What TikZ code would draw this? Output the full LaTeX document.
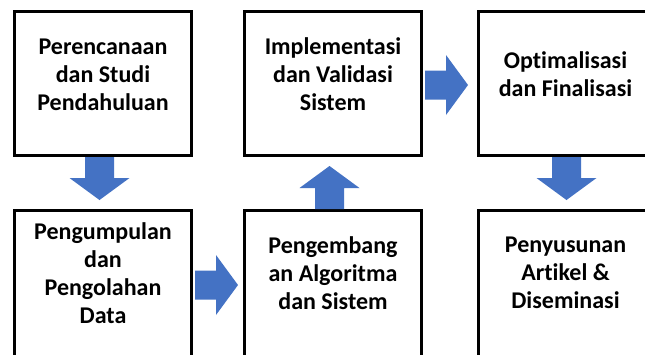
\documentclass[tikz,border=0pt]{standalone}
\usepackage{fontspec}
\setmainfont{Carlito}[Ligatures=NoCommon]
\definecolor{arrowblue}{HTML}{4472C4}
\tikzset{
  stage/.style={draw=black,line width=3pt,minimum width=177pt,minimum height=144pt,inner sep=0pt},
  stagetext/.style={align=center,font=\fontsize{24}{28}\selectfont\bfseries,inner sep=0pt},
}
\newcommand{\blockarrow}[2]{\fill[arrowblue,shift={#1},rotate=#2] (0,-14.5) -- (21,-14.5) -- (21,-30) -- (43,0) -- (21,30) -- (21,14.5) -- (0,14.5) -- cycle;}
\begin{document}
\begin{tikzpicture}[x=1pt,y=1pt]
    \useasboundingbox (0,0) rectangle (645,-354);
    \clip (0,0) rectangle (645,-354);
    \fill[white] (0,0) rectangle (645,-354);
    \node[stage] (plan) at (103,-83.5) {};
    \node[stage] (impl) at (333,-83.5) {};
    \node[stage,minimum width=200pt] (optim) at (578.5,-83.5) {};
    \node[stage,minimum height=170pt] (data) at (103,-295.5) {};
    \node[stage,minimum height=170pt] (algo) at (333,-295.5) {};
    \node[stage,minimum width=200pt,minimum height=170pt] (publish) at (578.5,-295.5) {};
    \node[stagetext] (plantext) at ([yshift=9pt]plan.center) {Perencanaan\\dan Studi\\Pendahuluan};
    \node[stagetext] (impltext) at ([yshift=9pt]impl.center) {Implementasi\\dan Validasi\\Sistem};
    \node[stagetext] (optimtext) at ([xshift=-13pt,yshift=9pt]optim.center) {Optimalisasi\\dan Finalisasi};
    \node[stagetext] (datatext) at ([yshift=22.5pt]data.center) {Pengumpulan\\dan\\Pengolahan\\Data};
    \node[stagetext] (algotext) at ([yshift=22.5pt]algo.center) {Pengembang\\an Algoritma\\dan Sistem};
    \node[stagetext] (publishtext) at ([xshift=-13pt,yshift=22.5pt]publish.center) {Penyusunan\\Artikel \&\\Diseminasi};
    \blockarrow{([xshift=-3.5pt]plan.south)}{-90}
    \blockarrow{([xshift=2pt,yshift=10.5pt]data.east)}{0}
    \blockarrow{([xshift=-3.5pt]algo.north)}{90}
    \blockarrow{([xshift=2pt,yshift=-1.5pt]impl.east)}{0}
    \blockarrow{([xshift=-12pt]optim.south)}{-90}
\end{tikzpicture}
\end{document}
